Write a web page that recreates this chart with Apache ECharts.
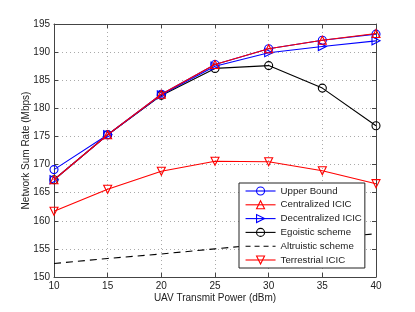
<!DOCTYPE html>
<html><head><meta charset="utf-8">
<script src="https://cdn.jsdelivr.net/npm/echarts@6/dist/echarts.min.js"></script>
<style>html,body{margin:0;padding:0;background:#fff}#c{width:415px;height:312px}</style>
</head><body><div id="c"></div>
<script>
var power = [10, 15, 20, 25, 30, 35, 40];
var upperBound = [169.1, 175.3, 182.5, 187.8, 190.6, 192.1, 193.2];
var centralized = [167.3, 175.3, 182.5, 187.8, 190.6, 192.1, 193.3];
var decentralized = [167.3, 175.3, 182.4, 187.5, 189.9, 191.0, 192.0];
var egoistic = [167.3, 175.3, 182.3, 187.1, 187.6, 183.6, 176.9];
var altruistic = [152.4, 153.3, 154.1, 155.0, 155.9, 156.8, 157.7];
var terrestrial = [161.7, 165.6, 168.8, 170.6, 170.5, 168.9, 166.6];
var names = ['Upper Bound','Centralized ICIC','Decentralized ICIC','Egoistic scheme','Altruistic scheme','Terrestrial ICIC'];
var colors = ['#0000ff','#ff0000','#0000ff','#000000','#000000','#ff0000'];
var hidden = [false,false,false,false,true,false];

function pts(arr){ return power.map(function(p,i){return [p,arr[i]];}); }
var font = '"Liberation Sans", Arial, sans-serif';
function mk(name, data, color, symbol, rot, dashed, z){
  return {
    name: name, type: 'line', data: pts(data), z: z,
    symbol: symbol, symbolSize: 8, symbolRotate: rot, showSymbol: !dashed,
    lineStyle: {color: color, width: 1.1, type: dashed ? [7,5] : 'solid'},
    itemStyle: dashed ? {color: 'rgba(0,0,0,0)', borderColor: 'rgba(0,0,0,0)', borderWidth: 0}
                      : {color: 'rgba(255,255,255,0)', borderColor: color, borderWidth: 1.1},
    emphasis: {disabled: true}, animation: false
  };
}
var legendData = names.map(function(n, i){
  return {
    name: n,
    itemStyle: hidden[i] ? {color: 'rgba(0,0,0,0)', borderColor: 'rgba(0,0,0,0)', borderWidth: 0}
                         : {color: 'rgba(255,255,255,0)', borderColor: colors[i], borderWidth: 1.1},
    lineStyle: {color: colors[i], width: 1.1, type: hidden[i] ? [5,4] : 'solid'}
  };
});
var chart = echarts.init(document.getElementById('c'));
chart.setOption({
  animation: false,
  grid: {left: 54, right: 39, top: 24, bottom: 35},
  xAxis: [
    {type: 'value', min: 10, max: 40, interval: 5, position: 'bottom',
     name: 'UAV Transmit Power (dBm)', nameLocation: 'middle', nameGap: 16, nameMoveOverlap: false,
     nameTextStyle: {fontFamily: font, fontSize: 10, color: '#222'},
     axisLabel: {fontFamily: font, fontSize: 10, color: '#222', margin: 4},
     axisLine: {show: true, onZero: false, lineStyle: {color: '#444'}},
     axisTick: {show: true, inside: true, length: 4, lineStyle: {color: '#444'}},
     splitLine: {show: true, lineStyle: {color: '#aaa', type: [1,3], width: 1}}},
    {type: 'value', min: 10, max: 40, interval: 5, position: 'top',
     axisLabel: {show: false},
     axisLine: {show: true, onZero: false, lineStyle: {color: '#444'}},
     axisTick: {show: true, inside: true, length: 4, lineStyle: {color: '#444'}},
     splitLine: {show: false}}
  ],
  yAxis: [
    {type: 'value', min: 150, max: 195, interval: 5, position: 'left',
     name: 'Network Sum Rate (Mbps)', nameLocation: 'middle', nameGap: 23, nameMoveOverlap: false,
     nameTextStyle: {fontFamily: font, fontSize: 10, color: '#222'},
     axisLabel: {fontFamily: font, fontSize: 10, color: '#222', margin: 4},
     axisLine: {show: true, onZero: false, lineStyle: {color: '#444'}},
     axisTick: {show: true, inside: true, length: 4, lineStyle: {color: '#444'}},
     splitLine: {show: true, lineStyle: {color: '#aaa', type: [1,3], width: 1}}},
    {type: 'value', min: 150, max: 195, interval: 5, position: 'right',
     axisLabel: {show: false},
     axisLine: {show: true, onZero: false, lineStyle: {color: '#444'}},
     axisTick: {show: true, inside: true, length: 4, lineStyle: {color: '#444'}},
     splitLine: {show: false}}
  ],
  legend: {
    data: legendData, orient: 'vertical', left: 239, top: 183,
    itemWidth: 30, itemHeight: 10, itemGap: 3.8,
    backgroundColor: '#fff', borderColor: '#222', borderWidth: 1,
    padding: [3, 3, 3, 6],
    textStyle: {fontFamily: font, fontSize: 9.7, color: '#222'},
    selectedMode: false, z: 10
  },
  series: [
    mk(names[4], altruistic, '#000', 'circle', 0, true, 2),
    mk(names[5], terrestrial, '#ff0000', 'triangle', 180, false, 3),
    mk(names[3], egoistic, '#000', 'circle', 0, false, 4),
    mk(names[2], decentralized, '#0000ff', 'triangle', -90, false, 5),
    mk(names[0], upperBound, '#0000ff', 'circle', 0, false, 6),
    mk(names[1], centralized, '#ff0000', 'triangle', 0, false, 7)
  ]
});
</script></body></html>
